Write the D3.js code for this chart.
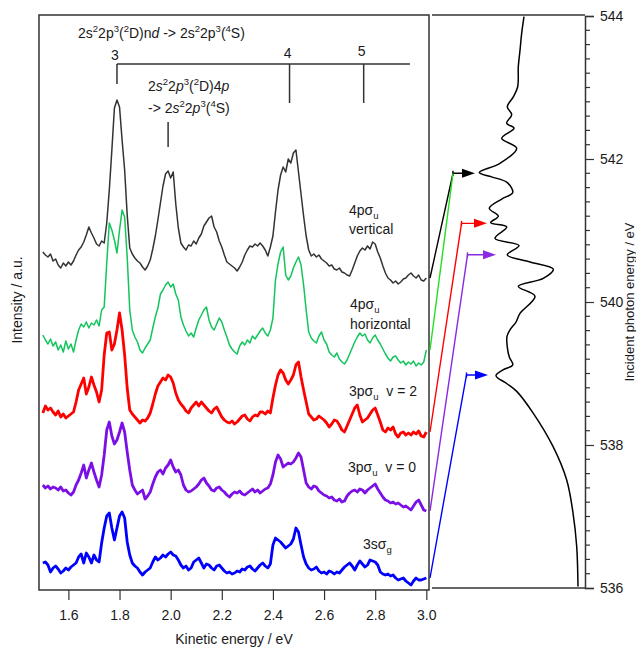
<!DOCTYPE html>
<html>
<head>
<meta charset="utf-8">
<script src="https://cdn.jsdelivr.net/npm/d3@7/dist/d3.min.js"></script>
<style>
  body { margin: 0; background: #fff; }
  text { font-family: "Liberation Sans", Arial, Helvetica, sans-serif; fill: #1a1a1a; white-space: pre; }
</style>
</head>
<body>
<div id="chart"></div>
<script>
var svgWidth = 636;
var svgHeight = 648;

// kinetic energy grid of the electron spectra (eV): 1.50 ... 3.00, step 0.01
var kineticEnergy = d3.range(151).map(i => Math.round(150 + i) / 100);

// spectra (a.u.), one value per grid point
var spec4pVertical = [
  38,35,33,36,29,31,25,22,27,24,
  28,25,29,35,40,43,48,55,63,57,
  52,46,44,49,47,67,100,140,182,190,
  183,150,120,75,42,36,32,29,27,23,
  20,24,30,41,54,70,87,104,116,119,
  112,118,86,62,47,43,40,45,44,49,
  46,52,56,64,68,72,74,63,58,49,
  43,35,28,26,24,22,19,23,28,35,
  40,44,43,46,44,47,44,40,34,43,
  54,78,100,115,123,118,131,127,137,140,
  118,96,74,54,40,34,36,33,35,31,
  29,27,24,25,21,20,22,18,17,15,
  14,20,27,34,39,42,40,44,41,48,
  46,38,32,24,17,12,10,7,9,6,
  8,11,12,15,17,14,12,15,10,9,
  12
];
var spec4pHorizontal = [
  45,40,36,41,34,38,30,35,28,39,
  31,36,28,40,50,56,53,58,52,57,
  55,60,54,70,73,117,157,150,140,127,
  150,170,163,123,70,50,43,38,30,27,
  32,36,40,52,63,72,86,90,95,98,
  93,96,86,80,63,55,49,44,47,43,
  52,60,65,70,73,60,53,50,56,62,
  58,50,43,35,31,28,26,34,38,35,
  40,37,44,41,45,49,52,47,44,50,
  62,100,116,128,133,105,100,104,112,118,
  123,115,95,70,48,42,39,37,44,48,
  40,36,28,25,23,27,21,18,16,20,
  26,32,38,43,47,44,46,40,37,42,
  45,40,36,31,26,22,19,23,24,20,
  17,19,15,18,16,19,14,17,15,18,
  30
];
var spec3pV2 = [
  37,44,40,42,38,35,39,33,36,32,
  34,36,38,48,60,66,72,56,63,73,
  65,58,48,60,95,117,118,100,106,120,
  137,120,95,62,40,36,33,30,27,30,
  29,32,37,46,56,64,68,72,70,75,
  73,67,57,50,46,43,39,37,42,45,
  48,44,48,45,42,39,37,41,43,38,
  33,30,28,27,29,26,28,31,34,35,
  31,29,33,35,34,38,38,36,39,37,
  52,65,75,80,77,70,66,70,75,85,
  88,73,60,48,36,33,30,31,34,32,
  30,27,23,26,30,29,25,20,18,24,
  30,36,42,45,35,28,30,32,36,40,
  42,35,28,20,18,22,20,23,16,13,
  17,18,15,17,15,18,16,19,14,13,
  18
];
var spec3pV0 = [
  35,32,34,31,33,32,30,33,29,30,
  27,25,28,35,40,47,55,42,50,57,
  48,40,33,45,65,90,98,84,76,80,
  88,97,88,68,50,35,30,26,28,30,
  21,24,28,36,43,48,50,46,52,55,
  60,53,48,50,45,35,30,28,29,31,
  33,36,40,42,37,34,30,29,32,33,
  30,28,25,23,26,28,27,29,26,25,
  27,29,31,28,30,27,29,31,32,36,
  45,58,65,61,53,55,57,56,58,62,
  67,63,50,37,33,31,34,33,29,27,
  25,24,22,23,20,19,21,18,19,24,
  27,29,30,28,31,30,27,30,32,34,
  36,31,27,23,20,19,17,18,16,17,
  15,13,14,12,10,14,18,20,15,10,
  9
];
var spec3s = [
  27,28,25,18,22,24,21,17,19,22,
  20,23,25,27,33,36,27,37,33,27,
  35,30,28,47,62,74,77,62,50,62,
  74,78,72,48,35,27,24,22,18,15,
  18,20,22,28,33,30,32,35,33,36,
  38,35,34,30,25,22,24,20,22,28,
  30,32,27,22,26,25,22,20,24,25,
  22,19,17,18,16,17,19,18,21,20,
  23,24,21,19,22,25,27,24,22,26,
  45,52,50,48,45,42,44,46,51,62,
  58,45,33,26,22,20,21,23,19,17,
  18,16,19,18,16,18,17,20,23,25,
  27,24,20,25,29,26,23,25,30,29,
  28,25,18,16,15,16,14,15,12,10,
  11,12,9,7,5,9,12,10,10,11,
  12
];

var spectra = [spec4pVertical, spec4pHorizontal, spec3pV2, spec3pV0, spec3s];
var spectrumOffsets = [300, 210, 140, 70, 0];
var spectrumColors = ["#333333", "#12c45c", "#ff0000", "#7a10e6", "#0000ff"];
var connectorColors = ["#000000", "#22e022", "#ff0000", "#8a2be2", "#0000ff"];
// photon energy (eV) at which each spectrum was taken
var excitationEnergy = [541.80, 541.80, 541.10, 540.66, 538.98];

// photon yield curve (right panel)
var photonEnergy = [543.99, 543.76, 543.52, 543.29, 543.01, 542.87, 542.73, 542.62, 542.50, 542.43,
  542.29, 542.15, 541.94, 541.81, 541.75, 541.67, 541.53, 541.44, 541.31, 541.20,
  541.11, 541.05, 540.89, 540.79, 540.66, 540.56, 540.46, 540.33, 540.22, 540.08,
  539.84, 539.72, 539.61, 539.52, 539.37, 539.23, 539.12, 539.05, 538.97, 538.86,
  538.75, 538.45, 537.98, 537.51, 537.05, 536.58, 536.02];
var photonYield = [92, 89.7, 88, 86.3, 85.7, 81.3, 75.3, 79.7, 74.7, 82,
  69.7, 84.7, 68, 47.3, 59.7, 75.3, 80.7, 69.7, 57.3, 66.3,
  58.7, 74.7, 63, 87, 75.3, 98, 121.3, 111.3, 86.3, 103,
  88, 84, 78, 75, 75.3, 77.3, 80.7, 71, 64, 74.7,
  84.7, 101, 121, 134.7, 141, 144.7, 146];

// tick labels
var keTicks = [1.6, 1.8, 2.0, 2.2, 2.4, 2.6, 2.8, 3.0];
var photonTicks = [536, 538, 540, 542, 544];

// Rydberg series nd (n = 3, 4, 5) and the 4p line, kinetic energy in eV
var ndLabels = ["3", "4", "5"];
var ndEnergy = [1.79, 2.465, 2.755];
var fourPEnergy = 1.99;

var svg = d3.select("#chart")
  .append("svg")
  .attr("width", svgWidth)
  .attr("height", svgHeight);

svg.append("rect").attr("width", svgWidth).attr("height", svgHeight).attr("fill", "#fff");

// scales
var x = d3.scaleLinear().domain([1.485, 3.0105]).range([39, 429]);
var y = d3.scaleLinear().domain([0, 575]).range([590, 15]);
var xR = d3.scaleLinear().domain([0, 153]).range([432, 585]);
var yR = d3.scaleLinear().domain([536, 544]).range([588, 16]);

var frameColor = "#333";

// left frame
svg.append("rect")
  .attr("x", 39).attr("y", 15)
  .attr("width", 390).attr("height", 575)
  .attr("fill", "none")
  .attr("stroke", frameColor)
  .attr("stroke-width", 1.5);

// bottom axis
var bottomAxis = d3.axisBottom(x)
  .tickValues(keTicks)
  .tickSize(10)
  .tickPadding(10)
  .tickFormat(d3.format(".1f"));

var xAxis = svg.append("g")
  .attr("transform", "translate(0,590)")
  .call(bottomAxis);
xAxis.select(".domain").remove();
xAxis.selectAll("line").attr("stroke", frameColor).attr("stroke-width", 1.2);
xAxis.selectAll("text").style("font-size", "14px").attr("fill", "#1a1a1a");

svg.append("text")
  .attr("x", 234).attr("y", 644)
  .attr("text-anchor", "middle")
  .style("font-size", "14px")
  .text("Kinetic energy / eV");

svg.append("text")
  .attr("transform", "translate(22,300) rotate(-90)")
  .attr("text-anchor", "middle")
  .style("font-size", "14px")
  .text("Intensity / a.u.");

// spectra
spectra.forEach(function(vals, k) {
  var line = d3.line()
    .x((d, i) => x(kineticEnergy[i]))
    .y(d => y(d + spectrumOffsets[k]));
  svg.append("path")
    .datum(vals)
    .attr("d", line)
    .attr("fill", "none")
    .attr("stroke", spectrumColors[k])
    .attr("stroke-width", k < 2 ? 1.5 : 2.8)
    .attr("stroke-linejoin", "round");
});

// text with super/subscripts
function richText(g, px, py, parts, size) {
  var t = g.append("text").attr("x", px).attr("y", py).style("font-size", size + "px");
  var shift = 0;
  parts.forEach(function(p) {
    var s = typeof p === "string" ? {t: p} : p;
    var target = s.sup ? -size * 0.42 : (s.sub ? size * 0.32 : 0);
    var ts = t.append("tspan").attr("dy", target - shift).text(s.t);
    if (s.sup || s.sub) ts.style("font-size", (size * 0.68) + "px");
    if (s.i) ts.style("font-style", "italic");
    shift = target;
  });
  return t;
}

// nd series bracket
var ann = svg.append("g");
richText(ann, 78, 38, ["2s", {t: "2", sup: 1}, "2p", {t: "3", sup: 1}, "(", {t: "2", sup: 1}, "D)n", {t: "d", i: 1},
  " -> 2s", {t: "2", sup: 1}, "2p", {t: "3", sup: 1}, "(", {t: "4", sup: 1}, "S)"], 14);

ann.append("line")
  .attr("x1", x(ndEnergy[0])).attr("x2", x(2.936))
  .attr("y1", 64).attr("y2", 64)
  .attr("stroke", frameColor).attr("stroke-width", 1.5);

ndEnergy.forEach(function(e, i) {
  ann.append("line")
    .attr("x1", x(e)).attr("x2", x(e))
    .attr("y1", 64).attr("y2", i == 0 ? 84 : 103)
    .attr("stroke", frameColor).attr("stroke-width", 1.5);
  ann.append("text")
    .attr("x", x(e) - 2).attr("y", 60 - i * 2)
    .attr("text-anchor", "middle")
    .style("font-size", "14px")
    .text(ndLabels[i]);
});

richText(ann, 148, 91, ["2", {t: "s", i: 1}, {t: "2", sup: 1}, "2", {t: "p", i: 1}, {t: "3", sup: 1}, "(", {t: "2", sup: 1}, "D)4", {t: "p", i: 1}], 14);
richText(ann, 148, 113, ["-> 2", {t: "s", i: 1}, {t: "2", sup: 1}, "2", {t: "p", i: 1}, {t: "3", sup: 1}, "(", {t: "4", sup: 1}, "S)"], 14);
ann.append("line")
  .attr("x1", x(fourPEnergy)).attr("x2", x(fourPEnergy))
  .attr("y1", 122).attr("y2", 147)
  .attr("stroke", frameColor).attr("stroke-width", 1.5);

// trace labels
richText(ann, 349, 215, ["4p\u03c3", {t: "u", sub: 1}], 14);
richText(ann, 349, 234, ["vertical"], 14);
richText(ann, 350, 309, ["4p\u03c3", {t: "u", sub: 1}], 14);
richText(ann, 350, 329, ["horizontal"], 14);
richText(ann, 349, 396, ["3p\u03c3", {t: "u", sub: 1}, "  v = 2"], 14);
richText(ann, 348, 472, ["3p\u03c3", {t: "u", sub: 1}, "  v = 0"], 14);
richText(ann, 363, 549, ["3s\u03c3", {t: "g", sub: 1}], 14);

// right panel: top / bottom lines and photon energy axis
svg.append("line").attr("x1", 432).attr("x2", 585).attr("y1", 15).attr("y2", 15)
  .attr("stroke", frameColor).attr("stroke-width", 1.5);
svg.append("line").attr("x1", 432).attr("x2", 585).attr("y1", 588).attr("y2", 588)
  .attr("stroke", frameColor).attr("stroke-width", 1.5);

var rightAxis = d3.axisRight(yR)
  .tickValues(photonTicks)
  .tickSize(9)
  .tickPadding(6)
  .tickFormat(d3.format("d"));
var yAxisR = svg.append("g")
  .attr("transform", "translate(585,0)")
  .call(rightAxis);
yAxisR.select(".domain").attr("stroke", frameColor).attr("stroke-width", 1.5);
yAxisR.selectAll("line").attr("stroke", frameColor).attr("stroke-width", 1.2);
yAxisR.selectAll("text").style("font-size", "14px").attr("fill", "#1a1a1a");

var minorTicks = d3.range(0, 41).map(i => 536 + i * 0.2).filter(v => Math.abs(v - Math.round(v / 2) * 2) > 0.01);
yAxisR.selectAll(".minor")
  .data(minorTicks)
  .enter()
  .append("line")
  .attr("class", "minor")
  .attr("x1", 0).attr("x2", 5)
  .attr("y1", d => yR(d)).attr("y2", d => yR(d))
  .attr("stroke", frameColor).attr("stroke-width", 1.2);

svg.append("text")
  .attr("transform", "translate(633.5,302) rotate(-90)")
  .attr("text-anchor", "middle")
  .style("font-size", "13px")
  .text("Incident photon energy / eV");

// photon yield curve
var yieldLine = d3.line()
  .x(d => xR(d[1]))
  .y(d => yR(d[0]))
  .curve(d3.curveCatmullRom.alpha(0.5));
svg.append("path")
  .datum(photonEnergy.map((e, i) => [e, photonYield[i]]))
  .attr("d", yieldLine)
  .attr("fill", "none")
  .attr("stroke", "#000")
  .attr("stroke-width", 1.5);

// connectors from each spectrum to its excitation energy
var cornerX = [453, 453, 461.5, 467.5, 466.5];
var tipX = [475, null, 487, 496, 488];
spectra.forEach(function(vals, k) {
  var endY = y(vals[vals.length - 1] + spectrumOffsets[k]);
  var ey = yR(excitationEnergy[k]);
  var pts = [[430, endY], [cornerX[k], ey]];
  if (tipX[k]) pts.push([tipX[k] - 10, ey]);
  svg.append("path")
    .attr("d", d3.line()(pts))
    .attr("fill", "none")
    .attr("stroke", connectorColors[k])
    .attr("stroke-width", 1.4);
  if (tipX[k]) {
    svg.append("line")
      .attr("x1", cornerX[k]).attr("x2", cornerX[k])
      .attr("y1", ey - 2.5).attr("y2", ey + 2.5)
      .attr("stroke", connectorColors[k]).attr("stroke-width", 1.4);
    svg.append("path")
      .attr("d", d3.line()([[tipX[k] - 13, ey - 4.5], [tipX[k], ey], [tipX[k] - 13, ey + 4.5]]) + "Z")
      .attr("fill", connectorColors[k]);
  }
});
</script>
</body>
</html>
